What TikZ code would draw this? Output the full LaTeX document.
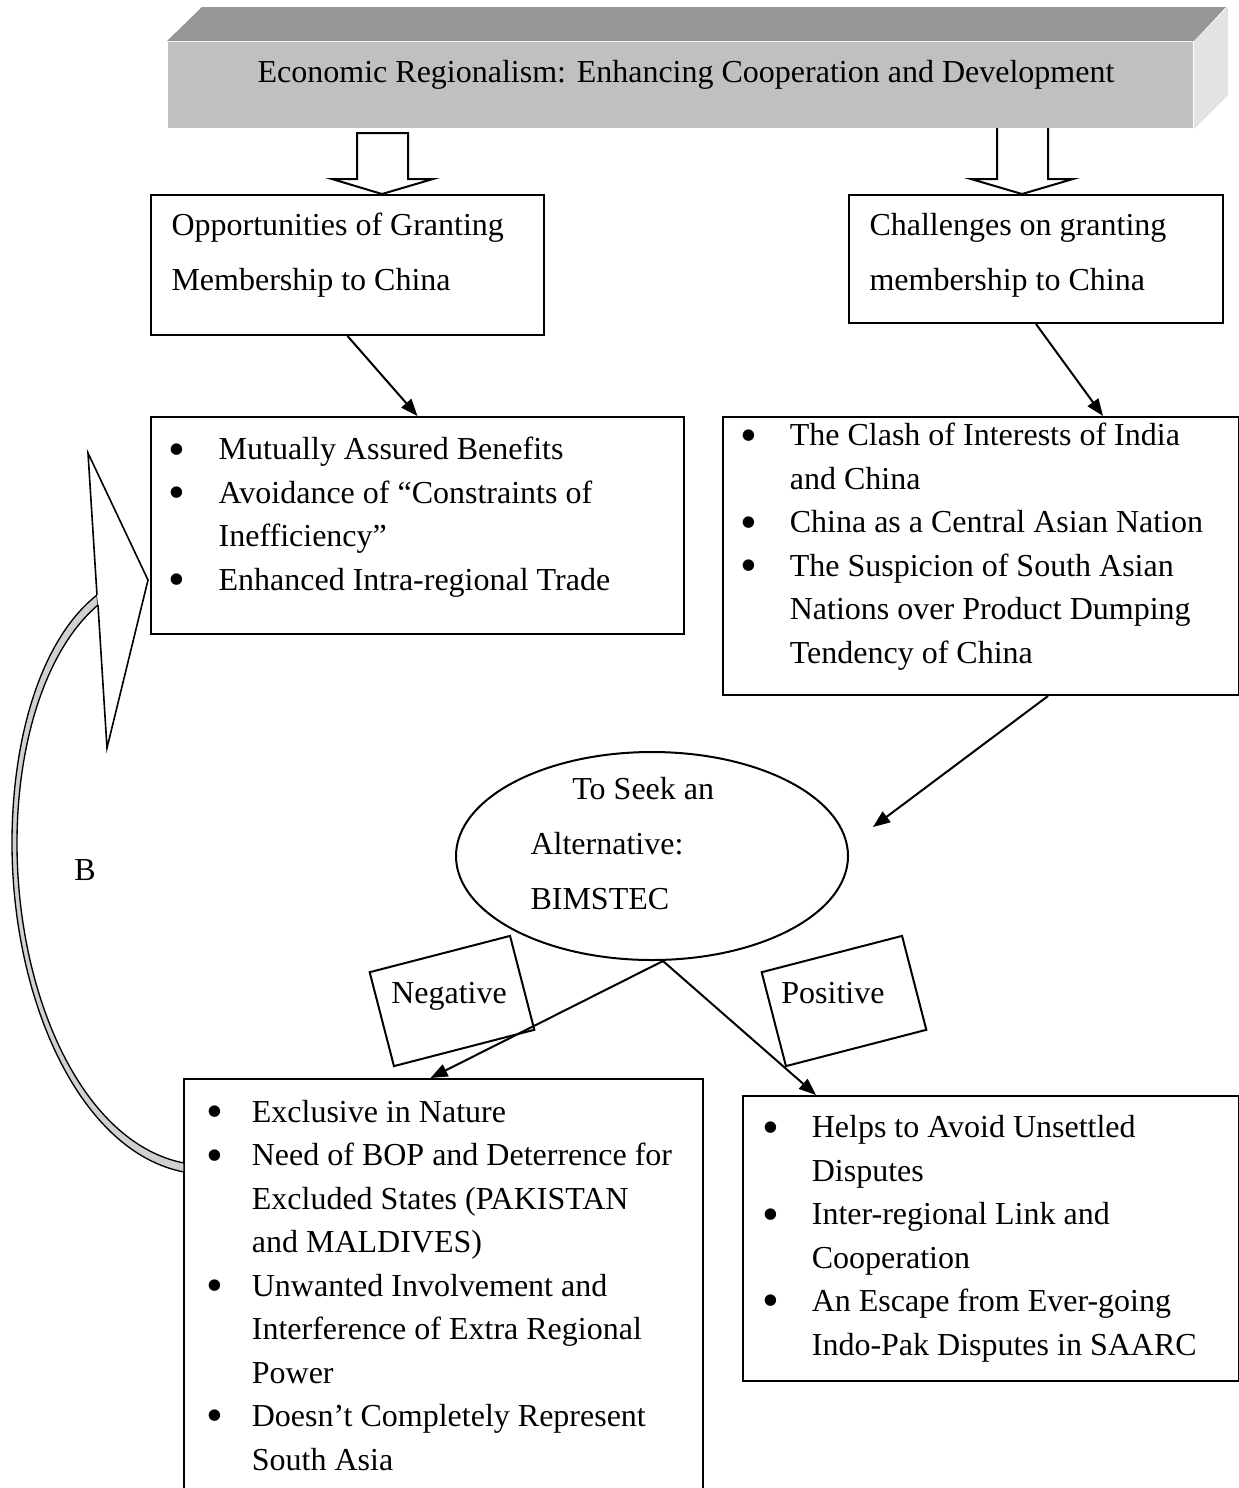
\documentclass[tikz,border=0pt]{standalone}
\usepackage{fontspec}
\setmainfont{Liberation Serif}
\usepackage{graphicx}
\usetikzlibrary{arrows.meta,positioning,calc,shapes.geometric}
\newcommand{\pxu}{0.375pt}
\newcommand{\bl}[1]{\makebox[#1][l]{\raisebox{-0.17em}{\scalebox{1.5}{\textbullet}}}}
\newcommand{\cn}[1]{\hspace*{#1}}
\definecolor{bannerfront}{HTML}{C0C0C0}
\definecolor{bannertop}{HTML}{969696}
\definecolor{bannerside}{HTML}{E3E3E3}
\definecolor{bandgray}{HTML}{D0D0D0}
\tikzset{
  box/.style={draw, line width=0.75pt, inner sep=0pt, anchor=north west},
  txt/.style={inner sep=0pt, anchor=base west, align=left, font=\fontsize{12}{16.3}\selectfont},
  wide/.style={font=\fontsize{12}{20.6}\selectfont},
  link/.style={line width=0.75pt, -{Triangle[length=6.4pt,width=4.9pt]}},
  blockarrow/.style={draw, fill=white, line width=0.75pt},
  tilted/.style={draw, line width=0.75pt, rotate=14.5, minimum width=145*\pxu, minimum height=97*\pxu, inner sep=0pt},
}

\begin{document}
\begin{tikzpicture}[x=\pxu, y=-\pxu]
\useasboundingbox (0,0) rectangle (1239,1488);
\clip (0,0) rectangle (1239,1488);

% block arrows under the banner
\draw[blockarrow] (357,133) -- (357,179) -- (332,179) -- (382,194) -- (433,179) -- (408,179) -- (408,133) -- cycle;
\draw[blockarrow] (997,120) -- (997,179) -- (971,179) -- (1022,194) -- (1073,179) -- (1048,179) -- (1048,120);

% banner
\node[box, draw=none, fill=bannerfront, minimum width=1025*\pxu, minimum height=86*\pxu] (banner) at (167,41) {};
\fill[bannertop] (banner.north west) -- ++(35,-34) -- ++(1024,0) -- (banner.north east) -- cycle;
\fill[bannerside] (banner.north east) -- ++(34,-34) -- ++(0,88) -- (banner.south east) -- cycle;
\node[txt, anchor=base] (bannertext) at (686,82) {Economic Regionalism: Enhancing Cooperation and Development};

% opportunities / challenges (text nodes sit on their last baseline)
\node[box, minimum width=393*\pxu, minimum height=140*\pxu] (opp) at (150,194) {};
\node[txt, wide] (opptext) at (171,290) {Opportunities of Granting\\Membership to China};
\node[box, minimum width=374*\pxu, minimum height=128*\pxu] (chal) at (848,194) {};
\node[txt, wide] (chaltext) at (869,290) {Challenges on granting\\membership to China};

% bullet boxes
\node[box, minimum width=533*\pxu, minimum height=217*\pxu] (gain) at (150,416) {};
\node[txt] (gaintext) at (168,590) {\bl{18.8pt}Mutually Assured Benefits\\\bl{18.8pt}Avoidance of ``Constraints of\\\cn{18.8pt}Inefficiency''\\\bl{18.8pt}Enhanced Intra-regional Trade};
\node[box, minimum width=516*\pxu, minimum height=278*\pxu] (risk) at (722,416) {};
\node[txt] (risktext) at (740,663) {\bl{18.5pt}The Clash of Interests of India\\\cn{18.5pt}and China\\\bl{18.5pt}China as a Central Asian Nation\\\bl{18.5pt}The Suspicion of South Asian\\\cn{18.5pt}Nations over Product Dumping\\\cn{18.5pt}Tendency of China};

% alternative
\node[ellipse, draw, line width=0.75pt, minimum width=392*\pxu, minimum height=208*\pxu, inner sep=0pt] (alt) at (652,856) {};
\node[txt, wide] (alttext) at (530,909) {\cn{15.7pt}To Seek an\\Alternative:\\BIMSTEC};

% negative / positive
\node[box, minimum width=519*\pxu, minimum height=500*\pxu] (minus) at (183,1078) {};
\node[txt] (minustext) at (206,1470) {\bl{17pt}Exclusive in Nature\\\bl{17pt}Need of BOP and Deterrence for\\\cn{17pt}Excluded States (PAKISTAN\\\cn{17pt}and MALDIVES)\\\bl{17pt}Unwanted Involvement and\\\cn{17pt}Interference of Extra Regional\\\cn{17pt}Power\\\bl{17pt}Doesn't Completely Represent\\\cn{17pt}South Asia};
\node[box, minimum width=496*\pxu, minimum height=285*\pxu] (plus) at (742,1095) {};
\node[txt] (plustext) at (762,1355) {\bl{18.5pt}Helps to Avoid Unsettled\\\cn{18.5pt}Disputes\\\bl{18.5pt}Inter-regional Link and\\\cn{18.5pt}Cooperation\\\bl{18.5pt}An Escape from Ever-going\\\cn{18.5pt}Indo-Pak Disputes in SAARC};

\node[tilted] (neglabel) at (452,1001) {};
\node[txt, anchor=base] (negtext) at (449,1003) {Negative};
\node[tilted] (poslabel) at (844,1001) {};
\node[txt, anchor=base] (postext) at (833,1003) {Positive};

% connectors
\draw[link] (opp.south) -- (gain.north);
\draw[link] (chal.south) -- ($(risk.north)+(122,0)$);
\draw[link] ($(risk.south)+(67,0)$) -- ($(alt.east)+(24,-29)$);
\coordinate (split) at ($(alt.south)+(11,0)$);
\draw[link] (split) -- ($(minus.north)+(-13,0)$);
\draw[link] (split) -- ($(plus.north)+(-175,0)$);

% curved arrow back to the top left box
\filldraw[fill=bandgray, line width=0.5pt] (184,1172) .. controls (80,1152) and (12,1000) .. (12,843) .. controls (12,740) and (40,640) .. (97,595) -- (98,605) .. controls (45,650) and (17,745) .. (17,843) .. controls (17,995) and (82,1143) .. (184,1163) -- cycle;
\filldraw[fill=white, line width=0.6pt] (97,595) -- (88,453) -- (148,580) -- (107,748) -- (98,605);
\node[txt, anchor=base] (backlabel) at (85,880) {B};
\end{tikzpicture}
\end{document}
